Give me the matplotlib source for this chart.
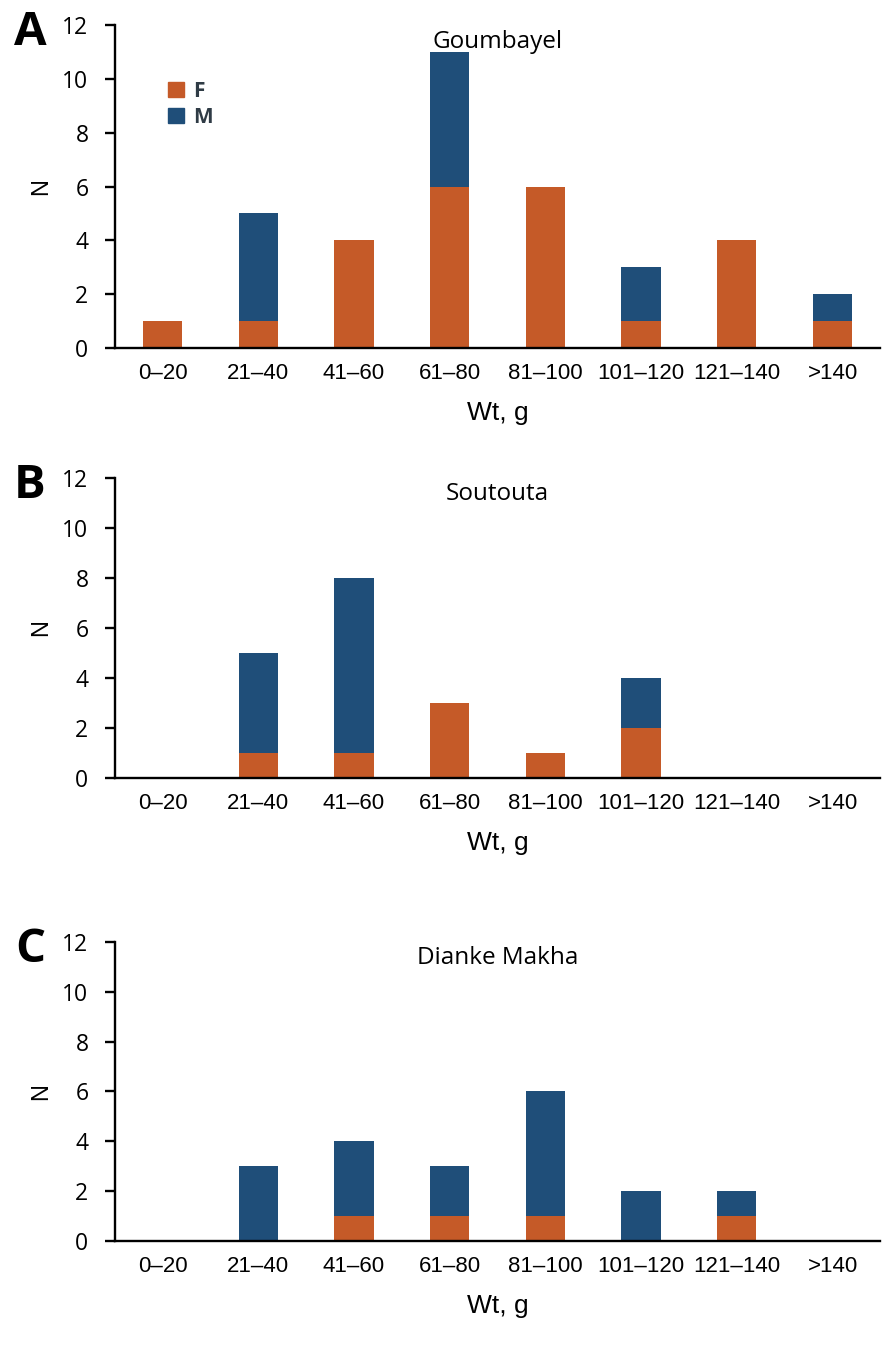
import numpy as np
import matplotlib.pyplot as plt
from matplotlib.patches import Patch

### Data
categories = ["0\u201320", "21\u201340", "41\u201360", "61\u201380", "81\u2013100",
              "101\u2013120", "121\u2013140", ">140"]
sites = ["Goumbayel", "Soutouta", "Dianke Makha"]
letters = ["A", "B", "C"]

goumbayel_f = [1, 1, 4, 6, 6, 1, 4, 1]
goumbayel_m = [0, 4, 0, 5, 0, 2, 0, 1]
soutouta_f = [0, 1, 1, 3, 1, 2, 0, 0]
soutouta_m = [0, 4, 7, 0, 0, 2, 0, 0]
dianke_f = [0, 0, 1, 1, 1, 0, 1, 0]
dianke_m = [0, 3, 3, 2, 5, 2, 1, 0]

females = [goumbayel_f, soutouta_f, dianke_f]
males = [goumbayel_m, soutouta_m, dianke_m]

orange = "#C55A28"
blue = "#1F4E79"

### Layout (figure fractions: left, bottom, width, height)
boxes = [[0.130, 0.7426, 0.867, 0.2389],
         [0.130, 0.4246, 0.867, 0.2219],
         [0.130, 0.0821, 0.867, 0.2212]]

fig = plt.figure(figsize=(8.83, 13.52), dpi=100)
x = np.arange(len(categories))

for i in range(3):
  ax = fig.add_axes(boxes[i])
  f = np.array(females[i])
  m = np.array(males[i])
  ax.bar(x, f, width=0.41, color=orange, label="F")
  ax.bar(x, m, width=0.41, bottom=f, color=blue, label="M")
  ax.set_xlim(-0.5, len(categories) - 0.5)
  ax.set_ylim(0, 12)
  ax.set_yticks(range(0, 13, 2))
  ax.set_xticks(x)
  ax.set_xticklabels(categories, fontsize=16, family="Liberation Sans")
  for lab in ax.get_yticklabels():
    lab.set_fontsize(16.5)
    lab.set_family("Open Sans")
  ax.tick_params(axis="x", length=0, pad=11)
  ax.tick_params(axis="y", length=7, width=1.7, direction="out", pad=12)
  for s in ["top", "right"]:
    ax.spines[s].set_visible(False)
  for s in ["left", "bottom"]:
    ax.spines[s].set_linewidth(1.7)
  ax.set_xlabel("Wt, g", fontsize=19, family="Liberation Sans", labelpad=12)
  ax.set_ylabel("N", fontsize=17, family="Liberation Sans", labelpad=7)
  ax.text(0.5, 0.985, sites[i], transform=ax.transAxes, ha="center", va="top",
          fontsize=17.5, family="Open Sans")
  fig.text(0.034, boxes[i][1] + boxes[i][3] + 0.012, letters[i], fontsize=34,
           fontweight="bold", ha="center", va="top", family="Open Sans")
  if i == 0:
    handles = [Patch(color=orange), Patch(color=blue)]
    leg = ax.legend(handles, ["F", "M"], loc="upper left", bbox_to_anchor=(0.045, 0.885),
                    frameon=False, handlelength=0.75, handleheight=0.75,
                    handletextpad=0.45, labelspacing=0.25,
                    prop={"weight": "bold", "size": 15, "family": "Open Sans"})
    for t in leg.get_texts():
      t.set_color("#2F3B45")

fig.savefig("out.png", dpi=100)
